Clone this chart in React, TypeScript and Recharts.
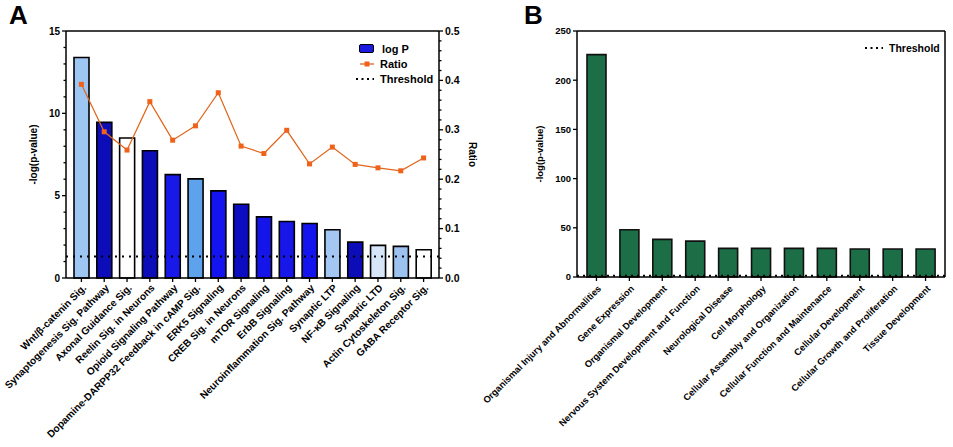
import {
  Bar,
  Cell,
  ComposedChart,
  Legend,
  Line,
  ReferenceLine,
  XAxis,
  YAxis,
} from "recharts"

// panel A: canonical pathways
const pathways = [
  "Wnt/β-catenin Sig.",
  "Synaptogenesis Sig. Pathway",
  "Axonal Guidance Sig.",
  "Reelin Sig. in Neurons",
  "Opioid Signaling Pathway",
  "Dopamine-DARPP32 Feedback in cAMP Sig.",
  "ERK5 Signaling",
  "CREB Sig. in Neurons",
  "mTOR Signaling",
  "ErbB Signaling",
  "Neuroinflammation Sig. Pathway",
  "Synaptic LTP",
  "NF-κB Signaling",
  "Synaptic LTD",
  "Actin Cytoskeleton Sig.",
  "GABA Receptor Sig.",
]
const logP = [13.39, 9.45, 8.5, 7.73, 6.28, 6.02, 5.29, 4.48, 3.71, 3.43, 3.31, 2.93, 2.18, 1.98, 1.92, 1.72]
const ratio = [0.392, 0.296, 0.259, 0.357, 0.279, 0.308, 0.375, 0.267, 0.252, 0.299, 0.231, 0.265, 0.23, 0.223, 0.217, 0.243]
const pathwayColors = [
  "#9dc6f2", "#0c0cb8", "#ffffff", "#0c0cb8", "#1818e8", "#5ea2ee", "#1414f0", "#0c0cc0",
  "#1515ea", "#1717ea", "#1414ee", "#a4c6f2", "#0c0cb8", "#d6e6f8", "#9cc2f0", "#ffffff",
]
const threshold = 1.3

// panel B: diseases and functions
const functions = [
  "Organismal Injury and Abnormalities",
  "Gene Expression",
  "Organismal Development",
  "Nervous System Development and Function",
  "Neurological Disease",
  "Cell Morphology",
  "Cellular Assembly and Organization",
  "Cellular Function and Maintenance",
  "Cellular Development",
  "Cellular Growth and Proliferation",
  "Tissue Development",
]
const logPB = [226, 48, 38.2, 36.5, 29.1, 29.1, 29.1, 29.1, 28.4, 28.4, 28.4]

const logPTicks = [0, 1, 2, 3, 4, 5, 6, 7, 8, 9, 10, 11, 12, 13, 14, 15]
const ratioTicks = Array.from({ length: 26 }, (_, i) => i / 50)
const logPBTicks = [0, 50, 100, 150, 200, 250]

const dataA = pathways.map((name, i) => ({ name, logP: logP[i], ratio: ratio[i] }))
const dataB = functions.map((name, i) => ({ name, logP: logPB[i] }))

const FONT = "'Liberation Sans', Arial, sans-serif"

function LeftTick({ x, y, payload, every, fontSize }: any) {
  const v = payload.value
  const major = Math.round(v * 1000) % Math.round(every * 1000) === 0
  return (
    <g>
      <line x1={x - (major ? 4 : 2.5)} x2={x} y1={y} y2={y} stroke="#000" strokeWidth={1.3} />
      {major && (
        <text x={x - 6} y={y} dy="0.35em" textAnchor="end" fontSize={fontSize} fontWeight="bold" fontFamily={FONT} fill="#000">
          {v}
        </text>
      )}
    </g>
  )
}

function RightTick({ x, y, payload }: any) {
  const v = payload.value
  const major = Math.round(v * 100) % 10 === 0
  return (
    <g>
      <line x1={x} x2={x + (major ? 4 : 2.5)} y1={y} y2={y} stroke="#000" strokeWidth={1.3} />
      {major && (
        <text x={x + 6} y={y} dy="0.35em" textAnchor="start" fontSize={10.5} fontWeight="bold" fontFamily={FONT} fill="#000">
          {v.toFixed(1)}
        </text>
      )}
    </g>
  )
}

function SlantTick({ x, y, payload, fontSize, dx = 3, dy = 4 }: any) {
  return (
    <text
      x={x + dx}
      y={y + dy}
      dy="0.35em"
      textAnchor="end"
      transform={`rotate(-45, ${x + dx}, ${y + dy})`}
      fontSize={fontSize}
      fontWeight="bold"
      fontFamily={FONT}
      fill="#000"
    >
      {payload.value}
    </text>
  )
}

function RatioDot({ cx, cy, index }: any) {
  if (cx == null || cy == null) return null
  return <rect key={index} x={cx - 2.5} y={cy - 2.5} width={5} height={5} fill="#f0621a" />
}

const legendText = { fontSize: 11, fontWeight: "bold" as const, fontFamily: FONT, color: "#000" }

function LegendA() {
  return (
    <div style={{ width: 84, ...legendText }}>
      <div style={{ display: "flex", alignItems: "center", height: 15 }}>
        <span style={{ width: 13, height: 7, background: "#1a1ae0", border: "1.3px solid #000", borderRadius: 2, marginRight: 8 }} />
        log P
      </div>
      <div style={{ display: "flex", alignItems: "center", height: 15 }}>
        <svg width={16} height={10} style={{ marginRight: 5 }}>
          <line x1={1} x2={15} y1={5} y2={5} stroke="#e0661c" strokeWidth={1.3} />
          <rect x={5.5} y={2.5} width={5} height={5} fill="#f0621a" />
        </svg>
        Ratio
      </div>
      <div style={{ display: "flex", alignItems: "center", height: 15, marginLeft: -4 }}>
        <svg width={20} height={10} style={{ marginRight: 5 }}>
          <line x1={1} x2={19} y1={5} y2={5} stroke="#000" strokeWidth={2} strokeDasharray="2 3.5" />
        </svg>
        Threshold
      </div>
    </div>
  )
}

function LegendB() {
  return (
    <div style={{ display: "flex", alignItems: "center", ...legendText, fontSize: 10.5 }}>
      <svg width={20} height={10} style={{ marginRight: 5 }}>
        <line x1={1} x2={19} y1={5} y2={5} stroke="#000" strokeWidth={2} strokeDasharray="2 3.5" />
      </svg>
      Threshold
    </div>
  )
}

const panelLetter = {
  position: "absolute" as const,
  top: 0,
  fontSize: 26,
  fontWeight: "bold" as const,
  fontFamily: FONT,
}

export default function App() {
  return (
    <div style={{ position: "absolute", left: 0, top: 0, width: 953, height: 447, background: "#fff" }}>
      <div style={{ ...panelLetter, left: 9 }}>A</div>
      <div style={{ ...panelLetter, left: 524 }}>B</div>

      <div style={{ position: "absolute", left: 0, top: 0 }}>
        <ComposedChart width={480} height={447} data={dataA} margin={{ top: 31, right: 0, bottom: 0, left: 0 }}>
          <XAxis
            dataKey="name"
            interval={0}
            height={169}
            padding={{ left: 4, right: 4 }}
            tick={<SlantTick fontSize={10.1} dx={3} dy={2} />}
            tickSize={4}
            tickLine={{ stroke: "#000", strokeWidth: 1.3 }}
            axisLine={{ stroke: "#000", strokeWidth: 1.5 }}
          />
          <YAxis
            yAxisId="left"
            width={66}
            domain={[0, 15]}
            ticks={logPTicks}
            interval={0}
            tickSize={0}
            tickMargin={0}
            tickLine={false}
            tick={<LeftTick every={5} fontSize={10} />}
            axisLine={{ stroke: "#000", strokeWidth: 1.5 }}
            label={{
              value: "-log(p-value)",
              angle: -90,
              position: "insideLeft",
              offset: 33,
              style: { textAnchor: "middle", fontSize: 10, fontWeight: "bold", fontFamily: FONT, fill: "#000" },
            }}
          />
          <YAxis
            yAxisId="right"
            orientation="right"
            width={41}
            domain={[0, 0.5]}
            ticks={ratioTicks}
            interval={0}
            tickSize={0}
            tickMargin={0}
            tickLine={false}
            tick={<RightTick />}
            axisLine={{ stroke: "#000", strokeWidth: 1.5 }}
            label={{
              value: "Ratio",
              angle: 90,
              position: "insideRight",
              offset: 7,
              style: { textAnchor: "middle", fontSize: 10, fontWeight: "bold", fontFamily: FONT, fill: "#000" },
            }}
          />
          <ReferenceLine yAxisId="left" y={15} stroke="#000" strokeWidth={1.5} />
          <Bar yAxisId="left" dataKey="logP" barSize={15} stroke="#000" strokeWidth={1.6} isAnimationActive={false}>
            {dataA.map((row, i) => (
              <Cell key={row.name} fill={pathwayColors[i]} />
            ))}
          </Bar>
          <ReferenceLine yAxisId="left" y={threshold} stroke="#000" strokeWidth={2} strokeDasharray="2 5" />
          <Line
            yAxisId="right"
            dataKey="ratio"
            stroke="#e0661c"
            strokeWidth={1.2}
            dot={<RatioDot />}
            activeDot={false}
            isAnimationActive={false}
          />
          <Legend
            content={<LegendA />}
            layout="horizontal"
            verticalAlign="middle"
            align="center"
            wrapperStyle={{ position: "absolute", left: 359, top: 41, width: 84 }}
          />
        </ComposedChart>
      </div>

      <div style={{ position: "absolute", left: 480, top: 0 }}>
        <ComposedChart width={473} height={447} data={dataB} margin={{ top: 31, right: 0, bottom: 0, left: 0 }}>
          <XAxis
            dataKey="name"
            interval={0}
            height={170}
            padding={{ left: 3, right: 3 }}
            tick={<SlantTick fontSize={9.3} />}
            tickSize={4}
            tickLine={{ stroke: "#000", strokeWidth: 1.3 }}
            axisLine={{ stroke: "#000", strokeWidth: 1.5 }}
          />
          <YAxis
            yAxisId="left"
            width={97}
            domain={[0, 250]}
            ticks={logPBTicks}
            interval={0}
            tickSize={0}
            tickMargin={0}
            tickLine={false}
            tick={<LeftTick every={50} fontSize={9.5} />}
            axisLine={{ stroke: "#000", strokeWidth: 1.5 }}
            label={{
              value: "-log(p-value)",
              angle: -90,
              position: "insideLeft",
              offset: 60,
              style: { textAnchor: "middle", fontSize: 9.5, fontWeight: "bold", fontFamily: FONT, fill: "#000" },
            }}
          />
          <YAxis
            yAxisId="frame"
            orientation="right"
            width={8}
            domain={[0, 250]}
            tick={false}
            tickLine={false}
            axisLine={{ stroke: "#000", strokeWidth: 1.5 }}
          />
          <ReferenceLine yAxisId="left" y={250} stroke="#000" strokeWidth={1.5} />
          <Bar yAxisId="left" dataKey="logP" barSize={19} fill="#1b6e46" stroke="#111" strokeWidth={1.6} isAnimationActive={false} />
          <ReferenceLine yAxisId="left" y={threshold} stroke="#000" strokeWidth={2} strokeDasharray="2 4" />
          <Legend
            content={<LegendB />}
            layout="horizontal"
            verticalAlign="middle"
            align="center"
            wrapperStyle={{ position: "absolute", left: 384, top: 42, width: 90 }}
          />
        </ComposedChart>
      </div>
    </div>
  )
}
